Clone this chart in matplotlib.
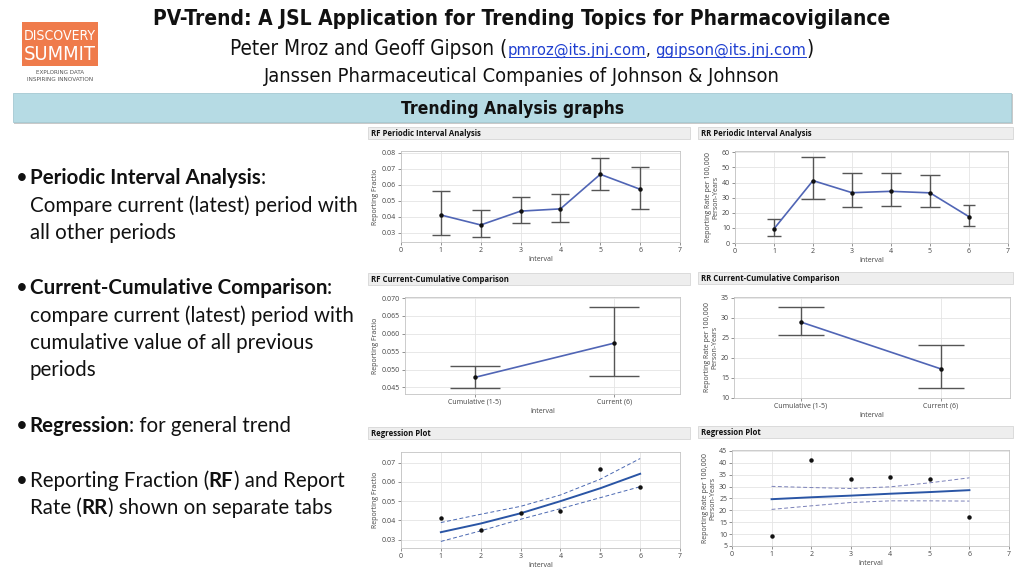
import matplotlib
matplotlib.use('Agg')
import matplotlib.pyplot as plt
from matplotlib.patches import Rectangle
from matplotlib.lines import Line2D
from matplotlib import font_manager as fm

# ---------------- data ----------------
intervals = [1, 2, 3, 4, 5, 6]
rf_values = [0.0412, 0.0350, 0.0436, 0.0450, 0.0665, 0.0572]
rf_lower = [0.0288, 0.0273, 0.0362, 0.0368, 0.0567, 0.0449]
rf_upper = [0.0564, 0.0440, 0.0523, 0.0540, 0.0769, 0.0709]
rr_values = [9.4, 41.3, 33.3, 34.2, 33.2, 17.4]
rr_lower = [4.9, 29.2, 23.5, 24.8, 24.1, 11.5]
rr_upper = [15.9, 57.0, 46.3, 46.5, 44.7, 25.2]

cc_labels = ['Cumulative (1-5)', 'Current (6)']
rf_cc_values = [0.0478, 0.0574]
rf_cc_lower = [0.0449, 0.0482]
rf_cc_upper = [0.0510, 0.0674]
rr_cc_values = [29.0, 17.3]
rr_cc_lower = [25.7, 12.6]
rr_cc_upper = [32.7, 23.2]

rf_fit = [0.0339, 0.0384, 0.0437, 0.0500, 0.0567, 0.0642]
rf_fit_upper = [0.0389, 0.0432, 0.0473, 0.0532, 0.0614, 0.0721]
rf_fit_lower = [0.0291, 0.0346, 0.0406, 0.0461, 0.0518, 0.0575]
rr_fit = [24.7, 25.5, 26.2, 27.0, 27.7, 28.5]
rr_fit_upper = [30.1, 29.6, 29.2, 29.9, 31.6, 33.7]
rr_fit_lower = [20.4, 21.9, 23.3, 24.0, 24.0, 23.9]

x_ticks = [0, 1, 2, 3, 4, 5, 6, 7]
rf_ticks = [0.03, 0.04, 0.05, 0.06, 0.07, 0.08]
rr_ticks = [0, 10, 20, 30, 40, 50, 60]
rf_cc_ticks = [0.045, 0.050, 0.055, 0.060, 0.065, 0.070]
rr_cc_ticks = [10, 15, 20, 25, 30, 35]
rf_reg_ticks = [0.03, 0.04, 0.05, 0.06, 0.07]
rr_reg_ticks = [5, 10, 15, 20, 25, 30, 35, 40, 45]

# ---------------- figure ----------------
W, H = 1024, 576
fig = plt.figure(figsize=(W / 100, H / 100), dpi=100)
fig.patch.set_facecolor('white')
renderer = fig.canvas.get_renderer()

avail = {f.name for f in fm.fontManager.ttflist}
if 'Liberation Sans Narrow' in avail:
    NARROW, STRETCH = 'Liberation Sans Narrow', 'normal'
else:
    NARROW, STRETCH = 'DejaVu Sans', 'condensed'
BODY = 'Lato' if 'Lato' in avail else 'DejaVu Sans'
UI = 'Open Sans' if 'Open Sans' in avail else 'DejaVu Sans'


def fx(x):
    return x / W


def fy(y):
    return 1 - y / H


def measure(s, size, family, weight='normal', stretch='normal'):
    t1 = fig.text(0, 0, '|' + s + '|', fontsize=size, family=family, weight=weight,
                  fontstretch=stretch)
    t2 = fig.text(0, 0, '||', fontsize=size, family=family, weight=weight,
                  fontstretch=stretch)
    w = t1.get_window_extent(renderer).width - t2.get_window_extent(renderer).width
    t1.remove()
    t2.remove()
    return w


def draw_runs(x, yb, runs, size, family, ha='left', target=None, stretch='normal'):
    """runs: (text, props, relative size)"""
    runs = [r if len(r) == 3 else (r[0], r[1], 1.0) for r in runs]
    if target is not None:
        tot = sum(measure(s, size * k, family, p.get('weight', 'normal'), stretch)
                  for s, p, k in runs)
        size = size * target / tot
    widths = [measure(s, size * k, family, p.get('weight', 'normal'), stretch)
              for s, p, k in runs]
    tot = sum(widths)
    if ha == 'center':
        x = x - tot / 2
    for (s, p, k), w in zip(runs, widths):
        fig.text(fx(x), fy(yb), s, fontsize=size * k, family=family, va='baseline',
                 ha='left', weight=p.get('weight', 'normal'), fontstretch=stretch,
                 color=p.get('color', '#111111'))
        if p.get('underline'):
            fig.add_artist(Line2D([fx(x + 1), fx(x + w - 1)], [fy(yb + 2), fy(yb + 2)],
                                  color=p.get('color'), lw=0.7, transform=fig.transFigure))
        x += w
    return size


# ---------------- logo ----------------
fig.add_artist(Rectangle((fx(22), fy(66)), fx(98) - fx(22), fy(22) - fy(66),
                         transform=fig.transFigure, facecolor='#ef7b4b', edgecolor='none'))
draw_runs(60, 40, [('DISCOVERY', {'color': 'white'})], 12, NARROW, ha='center', target=72,
          stretch=STRETCH)
draw_runs(60, 60, [('SUMMIT', {'color': 'white'})], 12, NARROW, ha='center', target=72,
          stretch=STRETCH)
draw_runs(60, 74, [('EXPLORING DATA', {'color': '#555555'})], 4, NARROW, ha='center',
          target=48, stretch=STRETCH)
draw_runs(60, 81, [('INSPIRING INNOVATION', {'color': '#555555'})], 4, NARROW, ha='center',
          target=66, stretch=STRETCH)

# ---------------- titles ----------------
link = '#1f3fd0'
draw_runs(522, 25, [('PV-Trend: A JSL Application for Trending Topics for Pharmacovigilance',
                     {'weight': 'bold'})], 16, NARROW, ha='center', target=735, stretch=STRETCH)
draw_runs(522, 55, [('Peter Mroz and Geoff Gipson (', {}, 1.0),
                    ('pmroz@its.jnj.com', {'color': link, 'underline': True}, 0.8),
                    (', ', {}, 0.8),
                    ('ggipson@its.jnj.com', {'color': link, 'underline': True}, 0.8),
                    (')', {}, 1.0)], 13, NARROW, ha='center', target=580, stretch=STRETCH)
draw_runs(522, 82, [('Janssen Pharmaceutical Companies of Johnson & Johnson', {})], 13, NARROW,
          ha='center', target=518, stretch=STRETCH)

# banner
fig.add_artist(Rectangle((fx(14), fy(124)), fx(1013) - fx(14), fy(94) - fy(124),
                         transform=fig.transFigure, facecolor='#c9c9c9', edgecolor='none'))
fig.add_artist(Rectangle((fx(13), fy(122)), fx(1011) - fx(13), fy(93) - fy(122),
                         transform=fig.transFigure, facecolor='#b6dbe4', edgecolor='#a5c9d2',
                         lw=0.6))
draw_runs(513, 114, [('Trending Analysis graphs', {'weight': 'bold'})], 12, NARROW,
          ha='center', target=221, stretch=STRETCH)

# ---------------- left text ----------------
B = {'weight': 'bold'}
N = {}
body_size = 14
body_size = body_size * 329 / measure('Compare current (latest) period with', body_size, BODY)
left_lines = [
    (184, True, [('Periodic Interval Analysis', B), (':', N)]),
    (212, False, [('Compare current (latest) period with', N)]),
    (239, False, [('all other periods', N)]),
    (294, True, [('Current-Cumulative Comparison', B), (':', N)]),
    (322, False, [('compare current (latest) period with', N)]),
    (349, False, [('cumulative value of all previous', N)]),
    (376, False, [('periods', N)]),
    (432, True, [('Regression', B), (': for general trend', N)]),
    (487, True, [('Reporting Fraction (', N), ('RF', B), (') and Report', N)]),
    (514, False, [('Rate (', N), ('RR', B), (') shown on separate tabs', N)]),
]
for yb, bullet, rl in left_lines:
    if bullet:
        fig.text(fx(16), fy(yb), '\u2022', fontsize=body_size, family=BODY, va='baseline',
                 color='#111111')
    draw_runs(29.5, yb, rl, body_size, BODY)

# ---------------- charts ----------------
BLUE = '#5065b5'
ERR = '#555555'


def header(x0, y0, x1, y1, title):
    fig.add_artist(Rectangle((fx(x0), fy(y1)), fx(x1) - fx(x0), fy(y0) - fy(y1),
                             transform=fig.transFigure, facecolor='#eeeeee',
                             edgecolor='#d6d6d6', lw=0.6))
    fig.text(fx(x0 + 3), fy((y0 + y1) / 2 + 0.5), title, fontsize=5.6, family=UI,
             weight='bold', va='center', ha='left', color='#111111')


def make_ax(x0, y0, x1, y1):
    return fig.add_axes([fx(x0), fy(y1), fx(x1) - fx(x0), fy(y0) - fy(y1)])


def style(ax, xlim, ylim, yticks, yfmt, ylabel, xticks=None, xlabels=None):
    ax.set_xlim(xlim)
    ax.set_ylim(ylim)
    ax.set_yticks(yticks)
    ax.set_yticklabels([yfmt.format(v) for v in yticks])
    if xticks is not None:
        ax.set_xticks(xticks)
        if xlabels is not None:
            ax.set_xticklabels(xlabels)
    ax.grid(True, color='#e4e4e4', lw=0.6)
    ax.set_axisbelow(True)
    for s in ax.spines.values():
        s.set_color('#c4c4c4')
        s.set_linewidth(0.6)
    ax.tick_params(labelsize=5, colors='#666666', labelcolor='#444444', length=2,
                   width=0.5, pad=1.5)
    ax.set_xlabel('Interval', fontsize=5, color='#444444', labelpad=1.5, family=UI)
    ax.set_ylabel(ylabel, fontsize=5, color='#444444', labelpad=2, family=UI,
                  linespacing=1.0)
    for lab in ax.get_xticklabels() + ax.get_yticklabels():
        lab.set_family(UI)


RF_LAB = 'Reporting Fractio'
RR_LAB = 'Reporting Rate per 100,000\nPerson-Years'


def err_plot(ax, xs, vals, lo, hi, caps_pt):
    for x, v, l, h, c in zip(xs, vals, lo, hi, caps_pt):
        ax.errorbar([x], [v], yerr=[[v - l], [h - v]], fmt='none', ecolor=ERR,
                    elinewidth=1.0, capsize=c, capthick=1.0, zorder=2)
    ax.plot(xs, vals, color=BLUE, lw=1.2, zorder=3)
    ax.plot(xs, vals, 'o', ms=2.2, color='#111111', zorder=4)


# RF periodic
header(368, 127, 690, 139, 'RF Periodic Interval Analysis')
ax = make_ax(401, 151, 680, 242)
err_plot(ax, intervals, rf_values, rf_lower, rf_upper, [6.3] * 6)
style(ax, (0, 7), (0.0244, 0.081), rf_ticks, '{:.2f}', RF_LAB, x_ticks)

# RR periodic
header(698, 127, 1013, 139, 'RR Periodic Interval Analysis')
ax = make_ax(735, 151, 1008, 243)
err_plot(ax, intervals, rr_values, rr_lower, rr_upper, [4.7, 8.6, 7.2, 7.2, 7.2, 4.5])
style(ax, (0, 7), (0, 60.9), rr_ticks, '{:.0f}', RR_LAB, x_ticks)

# RF current-cumulative
header(368, 273, 690, 285, 'RF Current-Cumulative Comparison')
ax = make_ax(405, 297, 680, 394)
err_plot(ax, [0, 1], rf_cc_values, rf_cc_lower, rf_cc_upper, [18, 18])
style(ax, (-0.502, 1.471), (0.04314, 0.0703), rf_cc_ticks, '{:.3f}', RF_LAB, [0, 1],
      cc_labels)

# RR current-cumulative
header(698, 272, 1013, 284, 'RR Current-Cumulative Comparison')
ax = make_ax(734, 297, 1010, 398)
err_plot(ax, [0, 1], rr_cc_values, rr_cc_lower, rr_cc_upper, [16.7, 16.7])
style(ax, (-0.477, 1.496), (10, 35.25), rr_cc_ticks, '{:.0f}', RR_LAB, [0, 1], cc_labels)

# RF regression
header(368, 427, 690, 439, 'Regression Plot')
ax = make_ax(401, 452, 680, 548)
ax.plot(intervals, rf_fit, color='#2a55a5', lw=1.4, zorder=3)
ax.plot(intervals, rf_fit_upper, color='#4a68b2', lw=0.7, ls=(0, (4, 2.5)), zorder=3)
ax.plot(intervals, rf_fit_lower, color='#4a68b2', lw=0.7, ls=(0, (4, 2.5)), zorder=3)
ax.plot(intervals, rf_values, 'o', ms=2.2, color='#111111', zorder=4)
style(ax, (0, 7), (0.0257, 0.0755), rf_reg_ticks, '{:.2f}', RF_LAB, x_ticks)

# RR regression
header(698, 426, 1013, 438, 'Regression Plot')
ax = make_ax(732, 450, 1009, 546)
ax.plot(intervals, rr_fit, color='#2a55a5', lw=1.4, zorder=3)
ax.plot(intervals, rr_fit_upper, color='#7a80b8', lw=0.7, ls=(0, (4, 2.5)), zorder=3)
ax.plot(intervals, rr_fit_lower, color='#7a80b8', lw=0.7, ls=(0, (4, 2.5)), zorder=3)
ax.plot(intervals, rr_values, 'o', ms=2.2, color='#111111', zorder=4)
style(ax, (0, 7), (5, 45.4), rr_reg_ticks, '{:.0f}', RR_LAB, x_ticks)

fig.savefig('out.png', dpi=100, facecolor='white')
